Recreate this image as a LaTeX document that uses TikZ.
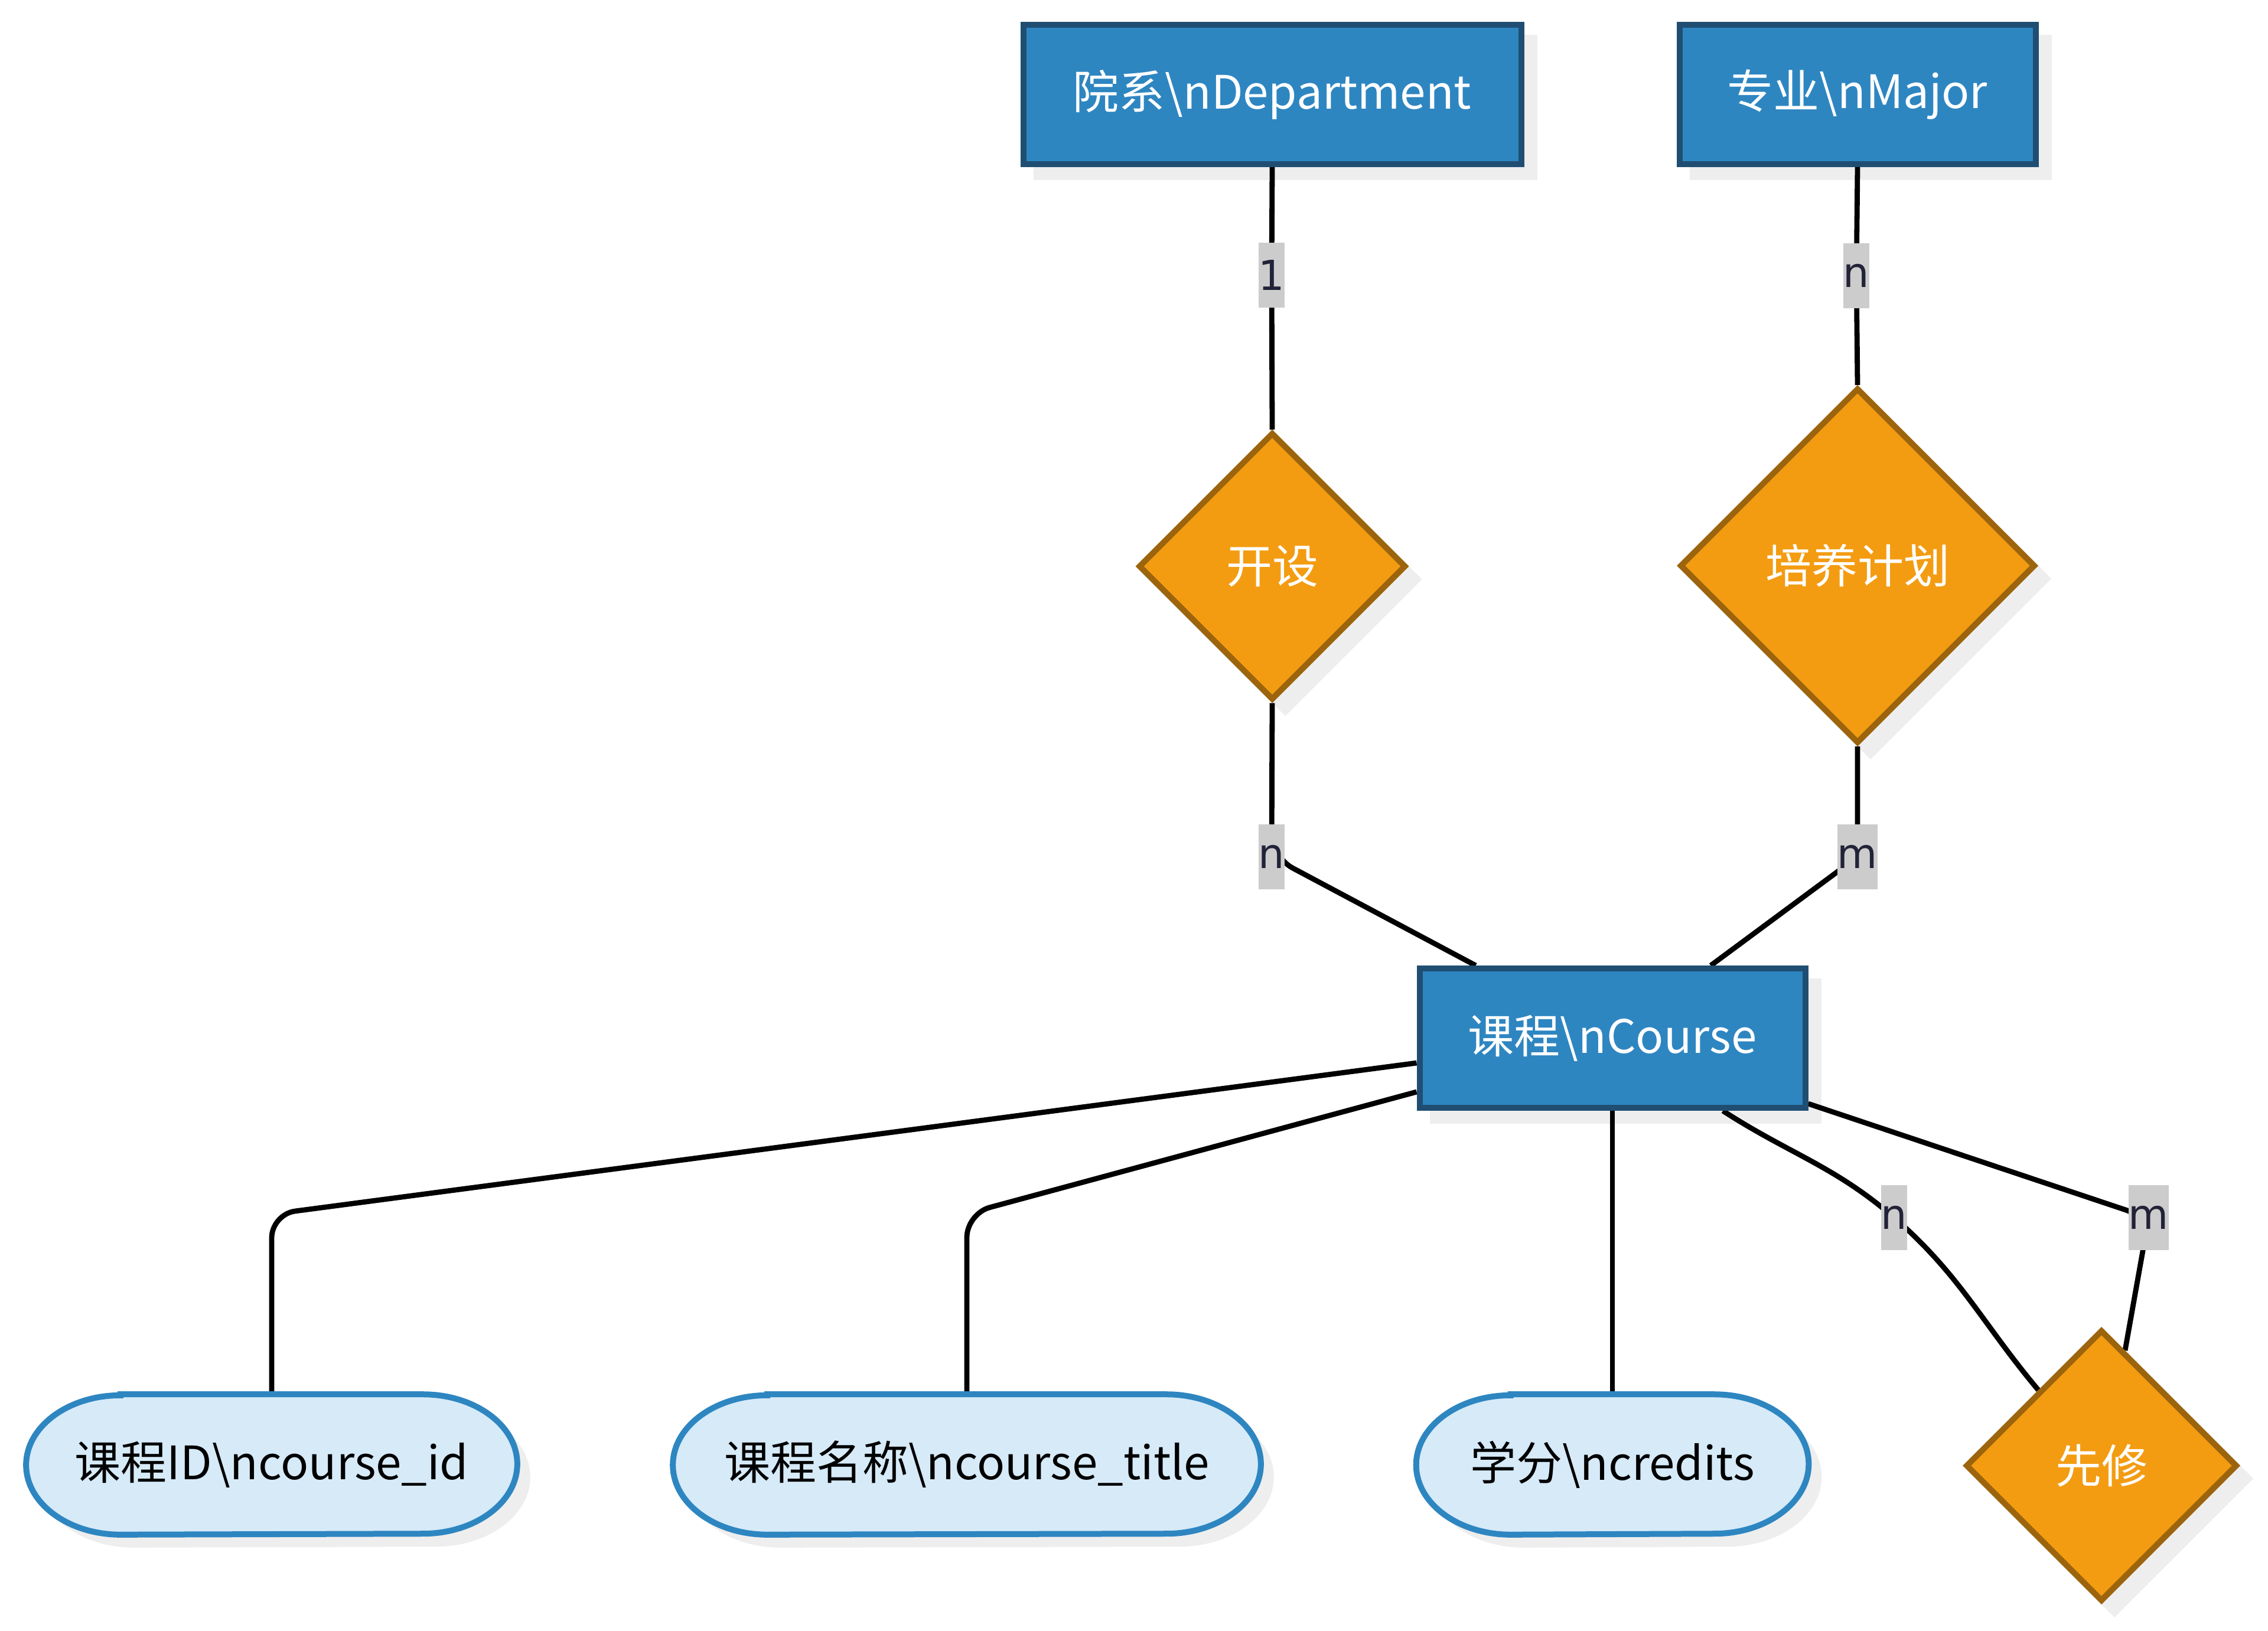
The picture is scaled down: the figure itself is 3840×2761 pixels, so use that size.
\documentclass[tikz,border=0pt]{standalone}
\usepackage{fontspec}
\setmainfont{Noto Sans CJK SC}
\newfontfamily\lblfont{DejaVu Sans}
\usetikzlibrary{shapes.geometric,calc}
\definecolor{entfill}{HTML}{2E86C1}
\definecolor{entdraw}{HTML}{1F4E72}
\definecolor{relfill}{HTML}{F39C12}
\definecolor{reldraw}{HTML}{9C640C}
\definecolor{attfill}{HTML}{D6EAF8}
\definecolor{attdraw}{HTML}{2E86C1}
\definecolor{shadcol}{HTML}{EEEEEE}
\definecolor{lblbg}{HTML}{CCCCCC}
\definecolor{lbltext}{HTML}{222238}
\pgfdeclarelayer{shad}\pgfdeclarelayer{edges}\pgfdeclarelayer{body}
\pgfsetlayers{shad,edges,body,main}
\begin{document}
\begin{tikzpicture}[x=0.25pt,y=-0.25pt,
  nodefont/.style={font=\fontsize{19.5}{24}\selectfont},
  entity/.style={rectangle, draw=entdraw, fill=entfill, line width=2.5pt, text=white, nodefont, minimum height=59pt, inner sep=0pt},
  relation/.style={diamond, aspect=1, draw=reldraw, fill=relfill, line width=2.5pt, text=white, nodefont, inner sep=0pt},
  attrib/.style={rectangle, draw=none, text=black, nodefont, minimum height=59pt, inner sep=0pt},
  attbody/.style={draw=attdraw, fill=attfill, line width=2.5pt},
  card/.style={rectangle, fill=lblbg, text=lbltext, font=\lblfont\fontsize{17.5}{21}\selectfont, inner xsep=0pt, inner ysep=0pt, minimum height=27.5pt},
  conn/.style={draw=black, line width=2.2pt},
  shadfill/.style={fill=shadcol}]
\useasboundingbox (0,0) rectangle (3840,2761);

% entities
\node[entity, minimum width=210.75pt] (dept) at (2154,160) {院系\textbackslash nDepartment};
\node[entity, minimum width=150.75pt] (major) at (3145,160) {专业\textbackslash nMajor};
\node[entity, minimum width=163.25pt] (course) at (2730,1758) {课程\textbackslash nCourse};

% relationships
\node[relation, minimum width=113.25pt, minimum height=113.25pt] (kaishe) at (2154,959) {开设};
\node[relation, minimum width=150.5pt, minimum height=150.5pt] (pyjh) at (3145,958) {培养计划};
\node[relation, minimum width=115pt, minimum height=115pt] (xx) at (3558,2482) {先修};

% attributes
\node[attrib, minimum width=207.5pt] (id) at (460,2480) {课程ID\textbackslash ncourse\_id};
\node[attrib, minimum width=248.5pt] (name) at (1637,2480) {课程名称\textbackslash ncourse\_title};
\node[attrib, minimum width=165.75pt] (credits) at (2730,2480) {学分\textbackslash ncredits};

% cardinality labels
\node[card] (l1) at (2153,466) {1};
\node[card] (ln2) at (3143,467) {n};
\node[card] (ln1) at (2153,1451) {n};
\node[card] (lm1) at (3145,1451) {m};
\node[card] (ln3) at (3207,2062) {n};
\node[card] (lm2) at (3638,2062) {m};

% shadows
\begin{pgfonlayer}{shad}
\foreach \a in {dept,major,course}{
  \fill[shadfill] ($(\a.south west)+(22,22)$) rectangle ($(\a.north east)+(22,22)$);
}
\foreach \a in {kaishe,pyjh,xx}{
  \fill[shadfill] ($(\a.north)+(22,22)$) -- ($(\a.east)+(22,22)$) -- ($(\a.south)+(22,22)$) -- ($(\a.west)+(22,22)$) -- cycle;
}
\foreach \a in {id,name,credits}{
  \fill[shadfill] ($(\a.north west)+(182,22)$) -- ($(\a.north east)+(-138,22)$) arc[start angle=90,end angle=-90,x radius=40pt,y radius=29.5pt] -- ($(\a.south west)+(182,22)$) arc[start angle=270,end angle=90,x radius=40pt,y radius=29.5pt] -- cycle;
}
\end{pgfonlayer}

% attribute bodies
\begin{pgfonlayer}{body}
\foreach \a in {id,name,credits}{
  \path[attbody] ($(\a.north west)+(160,0)$) -- ($(\a.north east)+(-160,0)$) arc[start angle=90,end angle=-90,x radius=40pt,y radius=29.5pt] -- ($(\a.south west)+(160,0)$) arc[start angle=270,end angle=90,x radius=40pt,y radius=29.5pt] -- cycle;
}
\end{pgfonlayer}

% connectors
\begin{pgfonlayer}{edges}
\draw[conn] (dept.south) -- (l1.center) -- (kaishe.north);
\draw[conn] (major.south) -- (ln2.center) -- (pyjh.north);
\draw[conn, rounded corners=10pt] (kaishe.south) -- (ln1.center) -- ($(course.north west)+(100,0)$);
\draw[conn, rounded corners=10pt] (pyjh.south) -- (lm1.center) -- ($(course.north east)+(-165,0)$);
\draw[conn, rounded corners=10pt] ($(course.west)+(0,42)$) -- ($(id.north)+(0,-305)$) -- (id.north);
\draw[conn, rounded corners=10pt] ($(course.west)+(0,91)$) -- ($(name.north)+(0,-306)$) -- (name.north);
\draw[conn] (course.south) -- (credits.north);
\draw[conn] ($(course.south)+(187,0)$) to[out=-33,in=139] (ln3.center) to[out=-41,in=130] ($(xx.west)!0.545!(xx.north)$);
\draw[conn, rounded corners=10pt] ($(course.east)+(0,111)$) -- (lm2.center) -- ($(xx.north)!0.17!(xx.east)$);
\end{pgfonlayer}
\end{tikzpicture}
\end{document}
